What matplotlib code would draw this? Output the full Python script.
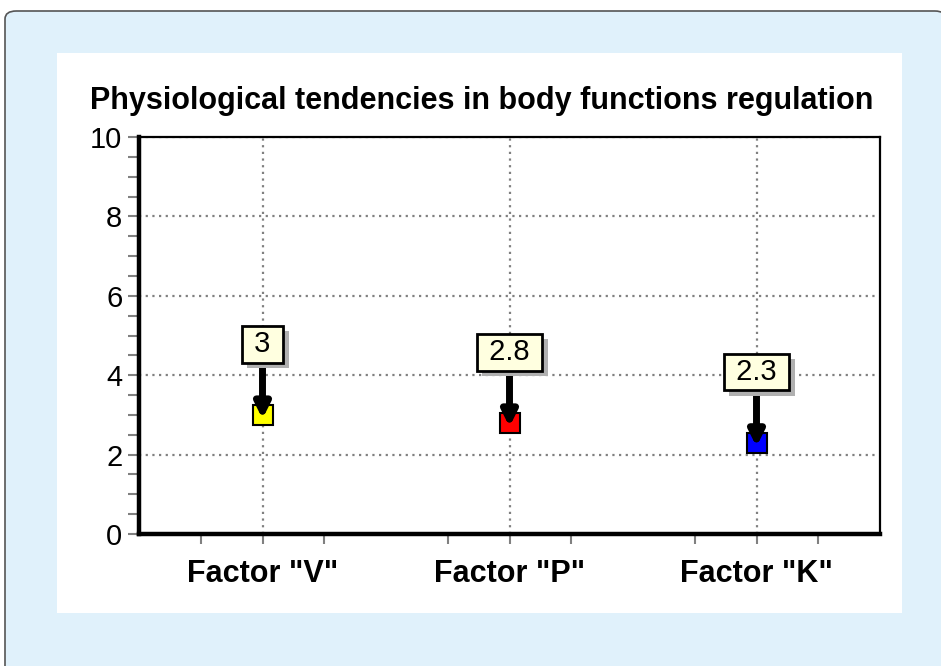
import matplotlib.pyplot as plt
import matplotlib.patheffects as pe
from matplotlib.patches import FancyBboxPatch, Rectangle
from matplotlib.ticker import MultipleLocator

# chart data
categories = ['Factor "V"', 'Factor "P"', 'Factor "K"']
values = [3.0, 2.8, 2.3]
value_labels = ['3', '2.8', '2.3']
marker_colors = ['#FFFF00', '#FF0000', '#0000FF']
title = 'Physiological tendencies in body functions regulation'

plt.rcParams['font.family'] = ['Liberation Sans', 'DejaVu Sans']

fig = plt.figure(figsize=(9.41, 6.66), dpi=100)
fig.patch.set_facecolor('white')

# light blue rounded frame and white panel behind the chart
frame = FancyBboxPatch((5 / 941, -0.05), 1.0, (666 - 11) / 666 + 0.05,
                       boxstyle='round,pad=0,rounding_size=0.012',
                       transform=fig.transFigure, fc='#E0F1FB', ec='#555555', lw=1.2,
                       zorder=-2)
fig.patches.append(frame)
panel = Rectangle((57 / 941, (666 - 613) / 666), (902 - 57) / 941, (613 - 53) / 666,
                  transform=fig.transFigure, fc='white', ec='none', zorder=-1)
fig.patches.append(panel)

ax = fig.add_axes([139 / 941, 132 / 666, 741 / 941, 397 / 666])
ax.set_facecolor('white')

x = [i + 0.5 for i in range(len(categories))]
ax.set_xlim(0, 3)
ax.set_ylim(0, 10)

ax.set_xticks(x)
ax.set_xticks([0.25, 0.75, 1.25, 1.75, 2.25, 2.75], minor=True)
ax.set_xticklabels(categories, fontsize=22, fontweight='bold')
ax.yaxis.set_major_locator(MultipleLocator(2))
ax.yaxis.set_minor_locator(MultipleLocator(0.5))
ax.tick_params(axis='y', which='both', labelsize=21, length=8, width=1.5,
               color='#808080', direction='out', pad=4)
ax.tick_params(axis='x', which='both', length=7, width=1.5, color='#808080',
               direction='out', pad=11)

ax.grid(True, which='major', color='#808080', linestyle=(0, (1, 2)), lw=1.6)
ax.set_axisbelow(True)

for side in ['left', 'bottom']:
    ax.spines[side].set_linewidth(3.2)
for side in ['top', 'right']:
    ax.spines[side].set_linewidth(1.6)
for sp in ax.spines.values():
    sp.set_color('black')

offset = 1.78
for xi, v, lab, c in zip(x, values, value_labels, marker_colors):
    ax.plot(xi, v, marker='s', ms=14, mfc=c, mec='black', mew=1.5, zorder=3)
    t = ax.annotate(' ' + lab + ' ', xy=(xi, v - 0.1), xytext=(xi, v + offset),
                    ha='center', va='center', fontsize=21, zorder=5,
                    bbox=dict(boxstyle='square,pad=0.15', fc='#FFFFE0', ec='black', lw=2),
                    arrowprops=dict(arrowstyle='-|>', lw=5, color='black',
                                    mutation_scale=22, shrinkA=0, shrinkB=0))
    # grey drop shadow under the label box
    t.get_bbox_patch().set_path_effects([
        pe.SimplePatchShadow(offset=(4, -4), shadow_rgbFace='#B0B0B0', alpha=1.0),
        pe.Normal()])

fig.text(482 / 941, (666 - 101) / 666, title, ha='center', va='center',
         fontsize=22, fontweight='bold')

fig.savefig('out.png', dpi=100, facecolor=fig.get_facecolor())
